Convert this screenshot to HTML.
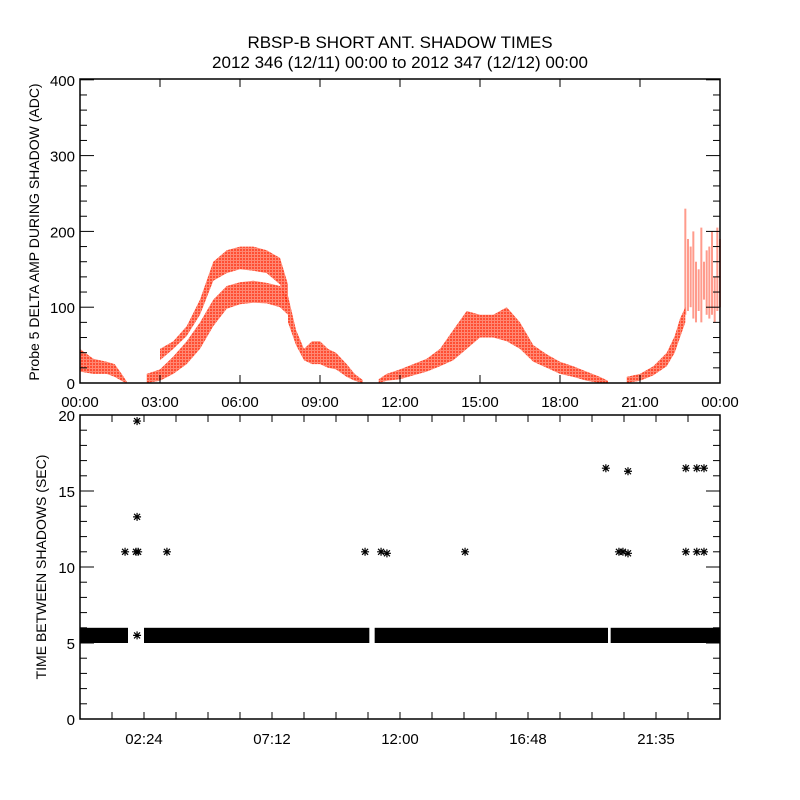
<!DOCTYPE html>
<html><head><meta charset="utf-8"><style>
html,body{margin:0;padding:0;background:#fff;}
svg{display:block;font-family:"Liberation Sans",sans-serif;}
</style></head><body>
<svg id="c" width="800" height="800" viewBox="0 0 800 800">
<defs><pattern id="dots" width="3" height="3" patternUnits="userSpaceOnUse"><rect width="3" height="3" fill="#ff6a50"/><rect width="2" height="2" fill="#ff2200"/></pattern></defs>
</svg>
<script>
// ---- data ----
const topBandTimes = [
 [0,0.5,1.0,1.3,1.6,1.75],
 [2.5,3,3.5,4,4.5,5,5.5,6,6.5,7,7.5,7.8],
 [3.0,3.5,4,4.5,5,5.5,6,6.5,7,7.5,7.8],
 [7.8,8.1,8.4,8.7,9,9.3,9.6,10,10.3,10.6],
 [11.2,11.5,12,12.5,13,13.5,14,14.5,15,15.5,16,16.5,17,17.5,18,18.5,19,19.5,19.8],
 [20.5,21,21.5,22,22.3,22.5,22.7]
];
const topBandLow = [
 [15,12,12,8,2,0],
 [0,3,12,25,45,75,98,104,106,105,100,90],
 [30,45,62,90,135,145,150,148,145,130,100],
 [80,50,30,25,25,20,18,8,3,0],
 [0,3,5,10,15,22,30,45,60,60,55,45,28,20,12,8,3,0,0],
 [0,3,10,22,40,60,80]
];
const topBandHigh = [
 [45,32,28,25,10,2],
 [12,18,35,55,80,110,128,133,135,132,128,110],
 [45,55,75,110,160,175,180,180,175,165,130],
 [115,70,45,55,55,45,40,25,12,4],
 [5,12,18,25,32,45,70,95,90,90,100,80,50,38,28,22,15,8,3],
 [8,12,22,40,62,85,100]
];
const spikeTimes = [22.7,22.8,22.9,23.0,23.1,23.2,23.3,23.4,23.5,23.6,23.7,23.8,23.9,24];
const spikeLow = [90,95,100,85,80,95,80,110,90,85,90,80,95,100];
const spikeHigh = [230,190,180,200,160,150,205,160,175,180,200,140,205,190];
const topXTicks = ["00:00","03:00","06:00","09:00","12:00","15:00","18:00","21:00","00:00"];
const topYTicks = [0,100,200,300,400];

const barStart = [0,2.4,11.05,19.9];
const barEnd = [1.8,10.85,19.8,24];
const outHours = [1.69,2.14,2.14,2.10,2.18,3.26,10.69,11.29,11.51,14.44,19.72,20.21,20.36,20.55,20.55,22.72,22.72,23.13,23.4,23.13,23.4,2.14];
const outValues = [11,19.6,13.3,11,11,11,11,11,10.9,11,16.5,11,11,16.3,10.9,16.5,11,16.5,16.5,11,11,5.5];
const botXLabels = ["02:24","07:12","12:00","16:48","21:35"];
const botYTicks = [0,5,10,15,20];

// ---- layout ----
const NS="http://www.w3.org/2000/svg";
const svg=document.getElementById('c');
function el(tag,attrs,parent){const e=document.createElementNS(NS,tag);for(const k in attrs)e.setAttribute(k,attrs[k]);(parent||svg).appendChild(e);return e;}
const X0=80,X1=720;
const xs=h=>X0+h/24*(X1-X0);
const T0=383,TT=79;
const ty=v=>T0-v*0.758;
const B0=719,BT=415;
const by=v=>B0-v*(B0-BT)/20;

let t=el('text',{x:400,y:48,'text-anchor':'middle','font-size':17});t.textContent='RBSP-B SHORT ANT. SHADOW TIMES';

t=el('text',{x:400,y:68,'text-anchor':'middle','font-size':17});t.textContent='2012 346 (12/11) 00:00 to 2012 347 (12/12) 00:00';


// top panel
const gTop=el('g',{});

for(let i=0;i<topBandTimes.length;i++){
  const ts=topBandTimes[i],lo=topBandLow[i],hi=topBandHigh[i];
  let d='';
  ts.forEach((h,j)=>{d+=(j?'L':'M')+xs(h).toFixed(1)+','+ty(hi[j]).toFixed(1);});
  for(let j=ts.length-1;j>=0;j--)d+='L'+xs(ts[j]).toFixed(1)+','+ty(lo[j]).toFixed(1);
  const p=el('path',{d:d+'Z',fill:'url(#dots)','fill-opacity':0.8},gTop);
  
}
for(let j=0;j<spikeTimes.length;j++){
  const r=el('rect',{x:xs(spikeTimes[j])-1,y:ty(spikeHigh[j]),width:2,height:ty(spikeLow[j])-ty(spikeHigh[j]),fill:'#ff2200','fill-opacity':0.45},gTop);
  
}
let f=el('rect',{x:X0,y:TT,width:X1-X0,height:T0-TT,fill:'none',stroke:'#000','stroke-width':1.5},gTop);

for(let v=0;v<=400;v+=20){
  const L=v%100===0?14:7;
  el('line',{x1:X0,x2:X0+L,y1:ty(v),y2:ty(v),stroke:'#000'},gTop);
  el('line',{x1:X1,x2:X1-L,y1:ty(v),y2:ty(v),stroke:'#000'},gTop);
}
topYTicks.forEach(v=>{const e=el('text',{x:X0-5,y:ty(v)+6,'text-anchor':'end','font-size':15},gTop);e.textContent=v;
});
topXTicks.forEach((s,i)=>{const x=xs(i*3);
  el('line',{x1:x,x2:x,y1:T0,y2:T0-8,stroke:'#000'},gTop);el('line',{x1:x,x2:x,y1:TT,y2:TT+8,stroke:'#000'},gTop);
  const e=el('text',{x:x,y:407,'text-anchor':'middle','font-size':15},gTop);e.textContent=s;
  });
t=el('text',{x:0,y:0,'text-anchor':'middle','font-size':14,transform:'translate(39,232) rotate(-90)'});t.textContent='Probe 5 DELTA AMP DURING SHADOW (ADC)';


// bottom panel
const gB=el('g',{});

for(let i=0;i<barStart.length;i++){
  const r=el('rect',{x:xs(barStart[i]),y:by(6.0),width:xs(barEnd[i])-xs(barStart[i]),height:by(5.0)-by(6.0),fill:'#000'},gB);
  
}
for(let i=0;i<outHours.length;i++){
  const cx=xs(outHours[i]),cy=by(outValues[i]),s=4;
  const p=el('path',{d:`M${cx-s},${cy}H${cx+s}M${cx},${cy-s}V${cy+s}M${cx-s*0.75},${cy-s*0.75}L${cx+s*0.75},${cy+s*0.75}M${cx-s*0.75},${cy+s*0.75}L${cx+s*0.75},${cy-s*0.75}`,stroke:'#000','stroke-width':1.2},gB);
  
}
f=el('rect',{x:X0,y:BT,width:X1-X0,height:B0-BT,fill:'none',stroke:'#000','stroke-width':1.5},gB);

for(let v=0;v<=20;v++){
  const L=v%5===0?14:7;
  el('line',{x1:X0,x2:X0+L,y1:by(v),y2:by(v),stroke:'#000'},gB);
  el('line',{x1:X1,x2:X1-L,y1:by(v),y2:by(v),stroke:'#000'},gB);
}
botYTicks.forEach(v=>{const e=el('text',{x:X0-5,y:by(v)+6,'text-anchor':'end','font-size':15},gB);e.textContent=v;
});
for(let k=1;k<20;k++){const x=xs(k*1.2);
  el('line',{x1:x,x2:x,y1:B0,y2:B0-7,stroke:'#000'},gB);el('line',{x1:x,x2:x,y1:BT,y2:BT+7,stroke:'#000'},gB);}
botXLabels.forEach((s,i)=>{const e=el('text',{x:xs(2.4+i*4.8),y:744,'text-anchor':'middle','font-size':15},gB);e.textContent=s;
});
t=el('text',{x:0,y:0,'text-anchor':'middle','font-size':14,transform:'translate(46,567) rotate(-90)'});t.textContent='TIME BETWEEN SHADOWS (SEC)';

</script>
</body></html>
